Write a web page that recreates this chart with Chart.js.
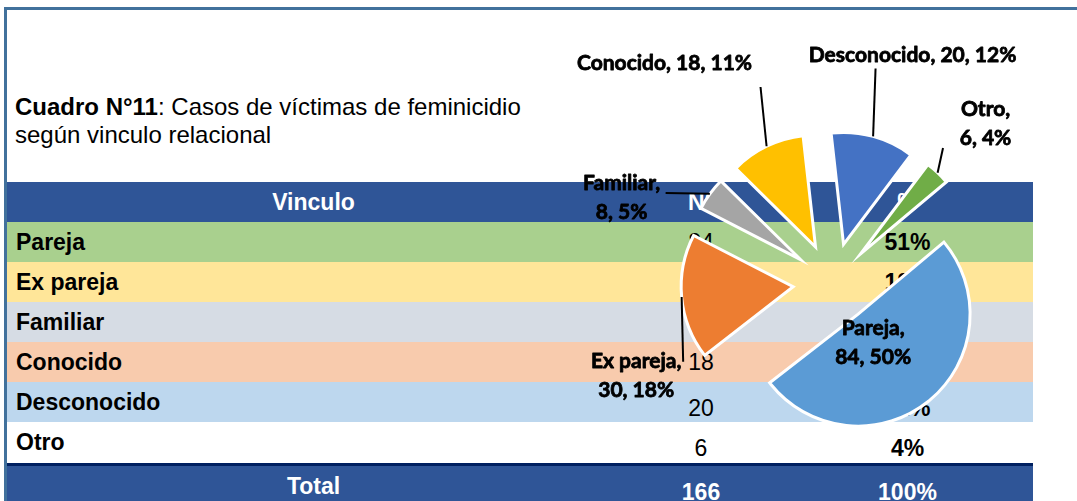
<!DOCTYPE html>
<html>
<head>
<meta charset="utf-8">
<script src="https://cdn.jsdelivr.net/npm/chart.js@4"></script>
<style>
html,body{margin:0;padding:0;background:#fff;}
body{width:1077px;height:501px;position:relative;overflow:hidden;font-family:"Liberation Sans",Arial,sans-serif;color:#000;}
#frameTop{position:absolute;left:4px;top:7px;width:1073px;height:3px;background:#41719C;}
#frameLeft{position:absolute;left:4px;top:7px;width:3px;height:494px;background:#41719C;}
#title{position:absolute;left:15px;top:93px;font-size:24px;line-height:28px;white-space:nowrap;}
.row{position:absolute;left:7px;width:1026px;height:40px;display:flex;}
.cell{display:flex;align-items:center;height:100%;font-size:23px;box-sizing:border-box;white-space:nowrap;}
.c1{width:613px;padding-left:9px;font-weight:bold;}
.c2{width:162px;justify-content:center;}
.c3{width:251px;justify-content:center;font-weight:bold;}
.hdr{background:#2F5597;}
.hdr .cell{color:#fff;font-weight:bold;justify-content:center;padding-left:0;}
.low .c2,.low .c3{padding-top:13px;}
#rule{position:absolute;left:7px;top:463px;width:1026px;height:3px;background:#002060;}
#chart{position:absolute;left:0;top:0;}
</style>
</head>
<body>
<div id="frameTop"></div>
<div id="frameLeft"></div>
<div id="title"><b>Cuadro N°11</b>: Casos de víctimas de feminicidio<br>según vinculo relacional</div>
<div id="table"></div>
<div id="rule"></div>
<canvas id="chart" width="1077" height="501"></canvas>
<script>
// ---- data ----
const categories = ['Pareja', 'Ex pareja', 'Familiar', 'Conocido', 'Desconocido', 'Otro'];
const cases = [84, 30, 8, 18, 20, 6];
const tablePercents = [51, 18, 5, 11, 12, 4];
const piePercents = [50, 18, 5, 11, 12, 4];
const headerLabels = ['Vinculo', 'N°', '%'];
const totalLabel = 'Total';
const totalCases = 166;
const totalPercent = 100;

// ---- styles ----
const sliceColors = ['#5B9BD5', '#ED7D31', '#A5A5A5', '#FFC000', '#4472C4', '#70AD47'];
const rowColors = ['#A9D08E', '#FFE699', '#D6DCE4', '#F8CBAD', '#BDD7EE', '#FFFFFF'];
const lowRows = [false, false, false, false, true, true];
// label placement relative to each (exploded) slice centre; leader end relative to label centre
const labelLayout = [
  {dx: 15, dy: 29, twoLines: true, leader: null},
  {dx: -157, dy: 89, twoLines: true, leader: [47, -14]},
  {dx: -179, dy: -62, twoLines: true, leader: [44, -4.5]},
  {dx: -151, dy: -184, twoLines: false, leader: [96, 24]},
  {dx: 69, dy: -189, twoLines: false, leader: [-37, 13]},
  {dx: 125, dy: -130.5, twoLines: true, leader: [-42.5, 24.5]}
];
const EXPLODE = 40;

// ---- table ----
const table = document.getElementById('table');
function addRow(top, cls, bg, texts) {
  const r = document.createElement('div');
  r.className = 'row ' + cls;
  r.style.top = top + 'px';
  if (bg) r.style.background = bg;
  ['c1', 'c2', 'c3'].forEach((c, k) => {
    const d = document.createElement('div');
    d.className = 'cell ' + c;
    d.textContent = texts[k];
    r.appendChild(d);
  });
  table.appendChild(r);
}
addRow(182, 'hdr', null, headerLabels);
categories.forEach((c, i) => addRow(222 + i * 40, lowRows[i] ? 'low' : '', rowColors[i], [c, String(cases[i]), tablePercents[i] + '%']));
addRow(466, 'hdr low', null, [totalLabel, String(totalCases), totalPercent + '%']);

// ---- chart ----
const explodePlugin = {
  id: 'explode',
  afterDatasetsUpdate(chart) {
    const a = chart.chartArea;
    const cx = (a.left + a.right) / 2, cy = (a.top + a.bottom) / 2;
    chart.getDatasetMeta(0).data.forEach(arc => {
      const m = (arc.startAngle + arc.endAngle) / 2;
      arc.x = cx + Math.cos(m) * EXPLODE;
      arc.y = cy + Math.sin(m) * EXPLODE;
    });
  }
};
const labelPlugin = {
  id: 'sliceLabels',
  afterDatasetsDraw(chart) {
    const ctx = chart.ctx;
    ctx.save();
    ctx.font = 'bold 21px Lato, "Noto Sans", sans-serif';
    ctx.fillStyle = '#000';
    ctx.strokeStyle = '#000';
    ctx.textAlign = 'center';
    ctx.textBaseline = 'middle';
    ctx.lineJoin = 'round';
    const drawText = (t, x, y) => {
      ctx.lineWidth = 0.8;
      ctx.strokeText(t, x, y);
      ctx.fillText(t, x, y);
    };
    chart.getDatasetMeta(0).data.forEach((arc, i) => {
      const L = labelLayout[i];
      const m = (arc.startAngle + arc.endAngle) / 2;
      const lx = arc.x + L.dx, ly = arc.y + L.dy;
      if (L.leader) {
        ctx.lineWidth = 2;
        ctx.beginPath();
        ctx.moveTo(arc.x + Math.cos(m) * arc.outerRadius, arc.y + Math.sin(m) * arc.outerRadius);
        ctx.lineTo(lx + L.leader[0], ly + L.leader[1]);
        ctx.stroke();
      }
      const name = categories[i] + ',';
      const rest = cases[i] + ', ' + piePercents[i] + '%';
      if (L.twoLines) {
        drawText(name, lx, ly - 14.5);
        drawText(rest, lx, ly + 14.5);
      } else {
        drawText(name + ' ' + rest, lx, ly);
      }
    });
    ctx.restore();
  }
};
function build() {
  new Chart(document.getElementById('chart'), {
    type: 'pie',
    data: {
      labels: categories,
      datasets: [{
        data: cases,
        backgroundColor: sliceColors,
        borderColor: '#FFFFFF',
        borderWidth: 3,
        borderJoinStyle: 'miter'
      }]
    },
    options: {
      responsive: false,
      devicePixelRatio: 1,
      animation: false,
      events: [],
      rotation: 50,
      radius: 112,
      layout: {padding: {left: 589, right: 0, top: 65, bottom: 0}},
      plugins: {legend: {display: false}, tooltip: {enabled: false}}
    },
    plugins: [explodePlugin, labelPlugin]
  });
}
if (document.fonts && document.fonts.load) {
  document.fonts.load('bold 21px Lato').then(build, build);
} else build();
</script>
</body>
</html>
